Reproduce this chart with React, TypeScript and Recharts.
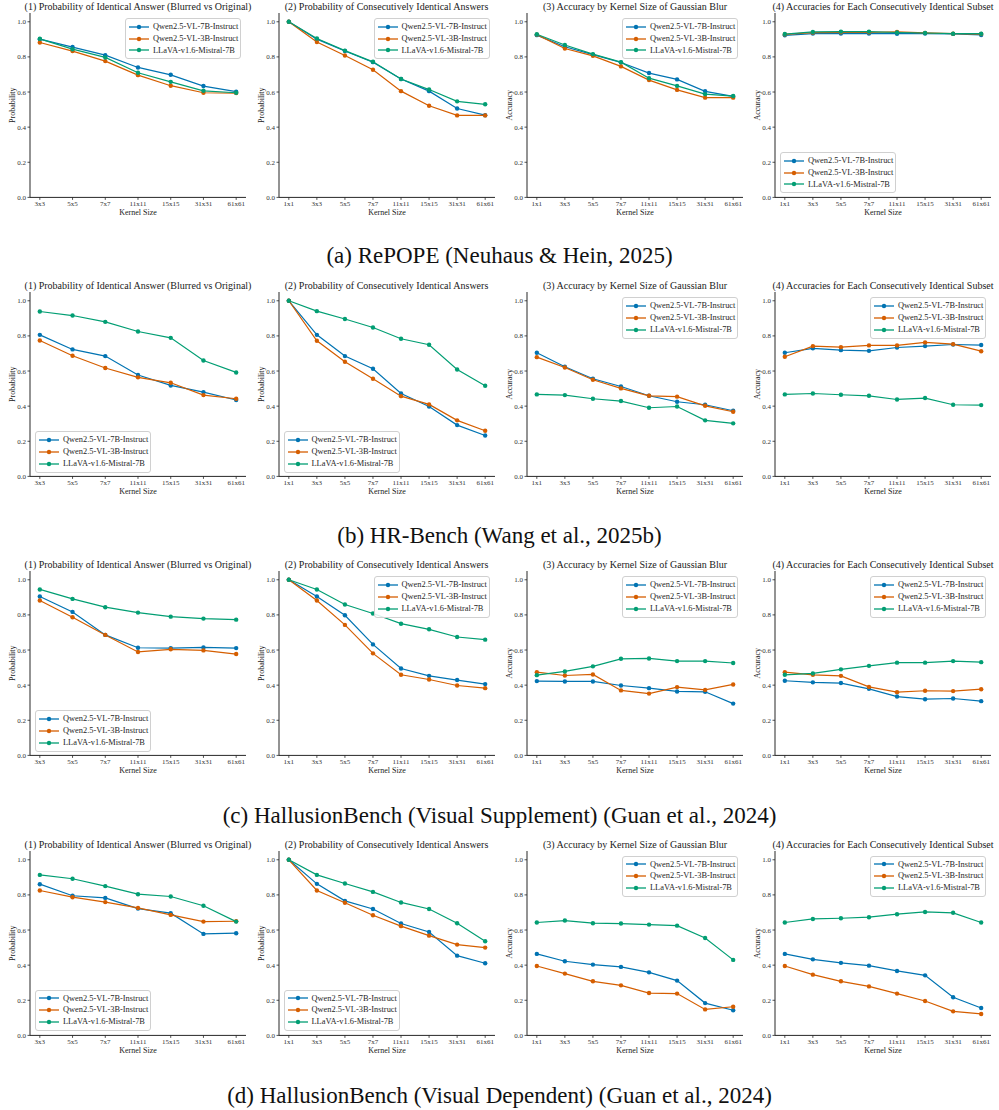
import React from "react";
import { LineChart, Line, XAxis, YAxis } from "recharts";

const FONT = '"Liberation Serif", "Times New Roman", Times, serif';

const MODELS = ["Qwen2.5-VL-7B-Instruct", "Qwen2.5-VL-3B-Instruct", "LLaVA-v1.6-Mistral-7B"];
const COLORS = ["#0173B2", "#D55E00", "#029E73"];

const KERNELS_7 = ["3x3", "5x5", "7x7", "11x11", "15x15", "31x31", "61x61"];
const KERNELS_8 = ["1x1", "3x3", "5x5", "7x7", "11x11", "15x15", "31x31", "61x61"];
const Y_TICKS = [0, 0.2, 0.4, 0.6, 0.8, 1.0];

const PANEL_TITLES = [
  "(1) Probability of Identical Answer (Blurred vs Original)",
  "(2) Probability of Consecutively Identical Answers",
  "(3) Accuracy by Kernel Size of Gaussian Blur",
  "(4) Accuracies for Each Consecutively Identical Subset",
];
const Y_LABELS = ["Probability", "Probability", "Accuracy", "Accuracy"];
const X_LABEL = "Kernel Size";

const CAPTIONS = [
  "(a) RePOPE (Neuhaus & Hein, 2025)",
  "(b) HR-Bench (Wang et al., 2025b)",
  "(c) HallusionBench (Visual Supplement) (Guan et al., 2024)",
  "(d) HallusionBench (Visual Dependent) (Guan et al., 2024)",
];

// ---- (a) RePOPE : [Qwen7B, Qwen3B, LLaVA]
const repopeIdentical = [
  [0.901, 0.856, 0.81, 0.74, 0.698, 0.634, 0.602],
  [0.882, 0.833, 0.776, 0.696, 0.636, 0.596, 0.594],
  [0.903, 0.844, 0.797, 0.71, 0.658, 0.607, 0.596],
];
const repopeConsecutive = [
  [1.0, 0.901, 0.834, 0.77, 0.674, 0.605, 0.506, 0.468],
  [1.0, 0.885, 0.808, 0.727, 0.605, 0.522, 0.467, 0.467],
  [1.0, 0.905, 0.836, 0.772, 0.674, 0.614, 0.547, 0.53],
];
const repopeAccuracy = [
  [0.924, 0.858, 0.813, 0.768, 0.708, 0.672, 0.604, 0.575],
  [0.927, 0.848, 0.806, 0.746, 0.668, 0.612, 0.568, 0.568],
  [0.929, 0.868, 0.816, 0.77, 0.679, 0.635, 0.588, 0.577],
];
const repopeSubset = [
  [0.923, 0.933, 0.933, 0.933, 0.932, 0.933, 0.931, 0.925],
  [0.928, 0.938, 0.94, 0.94, 0.942, 0.937, 0.932, 0.93],
  [0.93, 0.942, 0.944, 0.944, 0.939, 0.936, 0.932, 0.932],
];

// ---- (b) HR-Bench
const hrIdentical = [
  [0.806, 0.723, 0.685, 0.577, 0.518, 0.48, 0.435],
  [0.774, 0.687, 0.617, 0.564, 0.533, 0.463, 0.442],
  [0.939, 0.916, 0.88, 0.825, 0.789, 0.66, 0.592],
];
const hrConsecutive = [
  [1.0, 0.806, 0.685, 0.613, 0.472, 0.398, 0.292, 0.233],
  [1.0, 0.772, 0.653, 0.556, 0.457, 0.41, 0.319, 0.26],
  [1.0, 0.941, 0.896, 0.848, 0.784, 0.75, 0.609, 0.516],
];
const hrAccuracy = [
  [0.704, 0.624, 0.556, 0.512, 0.459, 0.425, 0.408, 0.374],
  [0.679, 0.62, 0.55, 0.501, 0.459, 0.454, 0.402, 0.368],
  [0.467, 0.463, 0.442, 0.429, 0.391, 0.398, 0.319, 0.302],
];
const hrSubset = [
  [0.704, 0.729, 0.719, 0.715, 0.734, 0.742, 0.751, 0.748],
  [0.681, 0.742, 0.736, 0.746, 0.746, 0.763, 0.753, 0.713],
  [0.467, 0.472, 0.465, 0.459, 0.438, 0.446, 0.408, 0.406],
];

// ---- (c) HallusionBench (Visual Supplement)
const vsIdentical = [
  [0.905, 0.817, 0.686, 0.613, 0.611, 0.615, 0.611],
  [0.882, 0.787, 0.686, 0.589, 0.604, 0.598, 0.577],
  [0.945, 0.891, 0.844, 0.813, 0.79, 0.779, 0.773],
];
const vsConsecutive = [
  [1.0, 0.905, 0.798, 0.632, 0.495, 0.453, 0.429, 0.406],
  [1.0, 0.882, 0.743, 0.581, 0.459, 0.432, 0.398, 0.383],
  [1.0, 0.945, 0.859, 0.808, 0.75, 0.718, 0.674, 0.659],
];
const vsAccuracy = [
  [0.423, 0.421, 0.421, 0.398, 0.383, 0.364, 0.362, 0.295],
  [0.474, 0.455, 0.461, 0.37, 0.352, 0.389, 0.373, 0.404],
  [0.457, 0.478, 0.507, 0.55, 0.552, 0.537, 0.537, 0.526],
];
const vsSubset = [
  [0.425, 0.416, 0.412, 0.379, 0.335, 0.32, 0.324, 0.309],
  [0.474, 0.459, 0.453, 0.39, 0.36, 0.368, 0.366, 0.377],
  [0.459, 0.467, 0.49, 0.51, 0.528, 0.528, 0.537, 0.531],
];

// ---- (d) HallusionBench (Visual Dependent)
const vdIdentical = [
  [0.861, 0.795, 0.783, 0.722, 0.696, 0.578, 0.582],
  [0.825, 0.787, 0.759, 0.726, 0.686, 0.648, 0.65],
  [0.914, 0.892, 0.85, 0.804, 0.791, 0.738, 0.648],
];
const vdConsecutive = [
  [1.0, 0.863, 0.766, 0.72, 0.637, 0.589, 0.454, 0.411],
  [1.0, 0.825, 0.755, 0.684, 0.622, 0.568, 0.517, 0.5],
  [1.0, 0.914, 0.865, 0.817, 0.757, 0.72, 0.639, 0.536],
];
const vdAccuracy = [
  [0.464, 0.422, 0.403, 0.39, 0.359, 0.312, 0.184, 0.143],
  [0.395, 0.352, 0.308, 0.285, 0.241, 0.238, 0.148, 0.163],
  [0.643, 0.654, 0.639, 0.637, 0.631, 0.625, 0.555, 0.43],
];
const vdSubset = [
  [0.464, 0.433, 0.413, 0.397, 0.367, 0.342, 0.217, 0.156],
  [0.395, 0.346, 0.308, 0.279, 0.238, 0.196, 0.137, 0.122],
  [0.643, 0.663, 0.667, 0.673, 0.69, 0.703, 0.698, 0.643],
];

const ROW_SERIES = [
  [repopeIdentical, repopeConsecutive, repopeAccuracy, repopeSubset],
  [hrIdentical, hrConsecutive, hrAccuracy, hrSubset],
  [vsIdentical, vsConsecutive, vsAccuracy, vsSubset],
  [vdIdentical, vdConsecutive, vdAccuracy, vdSubset],
];
// legend placement: "ur" upper right, "ll" lower left
const ROW_LEGENDS = [
  ["ur", "ur", "ur", "ll"],
  ["ll", "ll", "ur", "ur"],
  ["ll", "ur", "ur", "ur"],
  ["ll", "ll", "ur", "ur"],
];

// ---- layout
const PLOT_LEFTS = [30, 278.5, 527, 775];
const PLOT_W = 216;
const PLOT_H = 184.4;
const ROW_TOP0 = 13;
const ROW_STEP = 279.2;
const YW = 30;
const XH = 22;
const INK = "#262626";

function LegendBox({ pos }: { pos: string }) {
  const style: React.CSSProperties = {
    position: "absolute",
    width: 116,
    boxSizing: "border-box",
    padding: "2px 4px 2px 3px",
    border: "1px solid #d0d0d0",
    borderRadius: 3,
    background: "rgba(255,255,255,0.85)",
    fontFamily: FONT,
    fontSize: 8.4,
    color: "#262626",
    lineHeight: "11.8px",
  };
  if (pos === "ur") {
    style.right = 5;
    style.top = 5;
  } else {
    style.left = 5;
    style.bottom = 4;
  }
  return (
    <div style={style}>
      {MODELS.map((m, i) => (
        <div key={m} style={{ display: "flex", alignItems: "center", whiteSpace: "nowrap", height: 11.8 }}>
          <svg width={20} height={8} style={{ marginRight: 4, flex: "none" }}>
            <line x1={0} y1={4} x2={20} y2={4} stroke={COLORS[i]} strokeWidth={1.3} />
            <circle cx={10} cy={4} r={2.2} fill={COLORS[i]} />
          </svg>
          <span>{m}</span>
        </div>
      ))}
    </div>
  );
}

function Panel({ row, col }: { row: number; col: number }) {
  const series = ROW_SERIES[row][col];
  const cats = col === 0 ? KERNELS_7 : KERNELS_8;
  const data = cats.map((k, i) => ({ kernel: k, m0: series[0][i], m1: series[1][i], m2: series[2][i] }));
  const plotLeft = PLOT_LEFTS[col];
  const plotTop = ROW_TOP0 + ROW_STEP * row;
  const pad = (PLOT_W * 0.05) / 1.1;
  const tickStyle = { fontSize: 7, fill: "#333", fontFamily: FONT };
  return (
    <>
      <div
        style={{
          position: "absolute",
          left: plotLeft - 40,
          width: PLOT_W + 80,
          top: plotTop - 12,
          height: 11,
          lineHeight: "11px",
          textAlign: "center",
          fontFamily: FONT,
          fontSize: 10,
          color: "#1a1a1a",
          whiteSpace: "nowrap",
        }}
      >
        {PANEL_TITLES[col]}
      </div>
      <div style={{ position: "absolute", left: plotLeft - YW, top: plotTop, width: YW + PLOT_W + 2, height: PLOT_H + XH }}>
        <LineChart
          width={YW + PLOT_W + 2}
          height={PLOT_H + XH}
          data={data}
          margin={{ top: 0, right: 2, bottom: 0, left: 0 }}
          style={{ fontFamily: FONT }}
        >
          <XAxis
            dataKey="kernel"
            interval={0}
            padding={{ left: pad, right: pad }}
            height={XH}
            tick={tickStyle}
            tickSize={2.5}
            tickMargin={1}
            tickLine={{ stroke: INK, strokeWidth: 0.8 }}
            axisLine={{ stroke: INK, strokeWidth: 1 }}
            label={{ value: X_LABEL, position: "insideBottom", offset: 4, style: { fontSize: 8, fill: "#1a1a1a", fontFamily: FONT } }}
          />
          <YAxis
            type="number"
            domain={[0, 1.05]}
            ticks={Y_TICKS}
            allowDataOverflow
            width={YW}
            tick={tickStyle}
            tickFormatter={(v: number) => v.toFixed(1)}
            tickSize={2.5}
            tickMargin={1.5}
            tickLine={{ stroke: INK, strokeWidth: 0.8 }}
            axisLine={{ stroke: INK, strokeWidth: 1 }}
            label={{
              value: Y_LABELS[col],
              angle: -90,
              position: "insideLeft",
              offset: 12,
              style: { fontSize: 8, fill: "#1a1a1a", fontFamily: FONT, textAnchor: "middle" },
            }}
          />
          {[0, 1, 2].map((i) => (
            <Line
              key={i}
              type="linear"
              dataKey={`m${i}`}
              name={MODELS[i]}
              stroke={COLORS[i]}
              strokeWidth={1.2}
              dot={{ r: 2.2, fill: COLORS[i], stroke: COLORS[i], strokeWidth: 0 }}
              activeDot={false}
              isAnimationActive={false}
            />
          ))}
        </LineChart>
      </div>
      <div style={{ position: "absolute", left: plotLeft, top: plotTop, width: PLOT_W, height: PLOT_H, pointerEvents: "none" }}>
        <LegendBox pos={ROW_LEGENDS[row][col]} />
      </div>
    </>
  );
}

export default function App() {
  return (
    <div
      style={{
        position: "absolute",
        left: 0,
        top: 0,
        width: 999,
        height: 1110,
        background: "#fff",
        fontFamily: FONT,
        overflow: "hidden",
      }}
    >
      {CAPTIONS.map((cap, r) => (
        <React.Fragment key={cap}>
          {[0, 1, 2, 3].map((c) => (
            <Panel key={c} row={r} col={c} />
          ))}
          <div
            style={{
              position: "absolute",
              left: 0,
              width: 999,
              top: 244 + 280 * r,
              height: 23,
              lineHeight: "23px",
              textAlign: "center",
              fontFamily: FONT,
              fontSize: 23,
              color: "#111",
              whiteSpace: "nowrap",
            }}
          >
            {cap}
          </div>
        </React.Fragment>
      ))}
    </div>
  );
}
